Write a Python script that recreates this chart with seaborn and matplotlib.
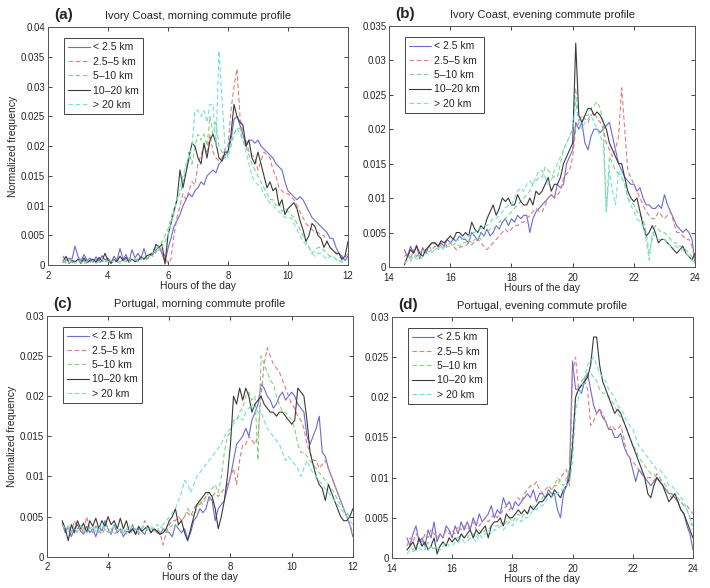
import numpy as np
import pandas as pd
import matplotlib
matplotlib.use("Agg")
import matplotlib.pyplot as plt
from matplotlib.ticker import FuncFormatter
import seaborn as sns

# values, in units of 1e-3 (per mille), one every 0.1 h
PER_MILLE = 1e-3
bands = ["< 2.5 km", "2.5\u20135 km", "5\u201310 km", "10\u201320 km", "> 20 km"]
morning_hours = np.round(np.arange(2.5, 12.05, 0.1), 1)
evening_hours = np.round(np.arange(14.5, 24.05, 0.1), 1)

# (a) Ivory Coast, morning
ic_morning_lt2_5 = [1.5, 0.8, 1.2, 1.0, 3.2, 1.5, 0.6, 1.8, 0.8, 1.2,
                    0.5, 1.4, 0.7, 1.6, 0.9, 1.2, 0.4, 1.5, 0.8, 2.8,
                    1.0, 1.8, 0.6, 2.6, 1.2, 2.0, 1.1, 2.8, 1.0, 1.6,
                    1.8, 2.6, 3.0, 2.0, 0.5, 2.8, 4.5, 6.5, 7.5, 8.5,
                    10.0, 11.0, 12.0, 11.5, 12.5, 13.0, 14.0, 13.5, 15.0, 15.5,
                    16.0, 15.5, 17.0, 17.5, 18.5, 19.0, 21.0, 24.5, 25.0, 23.5,
                    22.0, 20.0, 21.0, 21.0, 20.5, 21.0, 20.0, 19.5, 19.0, 18.5,
                    18.0, 17.0, 16.5, 16.0, 14.0, 12.5, 12.0, 11.5, 11.0, 11.5,
                    11.0, 10.0, 9.0, 8.0, 7.5, 7.0, 6.5, 6.0, 5.5, 4.5,
                    4.5, 3.0, 2.0, 1.5, 0.8, 1.5]
ic_morning_2_5_5 = [1.0, 0.5, 1.2, 0.4, 0.8, 1.0, 0.5, 0.9, 0.3, 0.7,
                    0.6, 1.0, 0.4, 0.8, 0.5, 1.2, 0.6, 0.3, 0.9, 0.5,
                    1.0, 0.6, 1.4, 0.8, 0.5, 1.2, 0.9, 1.5, 1.1, 1.8,
                    1.5, 2.2, 3.0, 2.5, 1.5, 0.3, 1.0, 5.0, 8.0, 10.0,
                    12.0, 11.0, 12.5, 14.0, 13.5, 17.0, 18.5, 20.0, 19.0, 22.0,
                    19.0, 18.0, 17.5, 18.0, 19.5, 20.0, 26.0, 30.0, 33.0, 25.0,
                    22.0, 21.0, 19.0, 18.5, 18.0, 16.0, 17.5, 19.0, 18.5, 18.0,
                    16.0, 15.0, 13.0, 12.5, 12.0, 12.0, 11.5, 11.0, 10.0, 9.0,
                    8.0, 7.0, 6.5, 6.0, 5.5, 5.5, 5.0, 5.0, 4.0, 3.0,
                    2.5, 2.0, 1.5, 1.0, 1.2, 2.0]
ic_morning_5_10 = [0.8, 0.3, 1.0, 0.5, 0.7, 0.4, 1.1, 0.6, 0.3, 0.8,
                   0.5, 0.9, 0.3, 0.7, 0.5, 1.0, 0.4, 0.8, 0.6, 0.3,
                   0.9, 0.5, 1.2, 0.7, 1.0, 0.6, 1.3, 1.0, 1.5, 1.8,
                   2.5, 3.0, 2.5, 4.0, 5.0, 6.0, 8.0, 9.5, 11.0, 12.0,
                   14.0, 16.0, 19.0, 17.0, 20.0, 22.0, 21.0, 22.0, 20.0, 25.0,
                   22.0, 24.0, 20.0, 19.0, 18.0, 19.0, 20.0, 22.0, 23.0, 23.0,
                   21.0, 20.0, 18.5, 17.0, 16.0, 15.0, 14.0, 13.0, 12.0, 11.0,
                   11.0, 10.0, 10.5, 9.0, 9.5, 9.0, 8.5, 8.0, 7.0, 6.0,
                   5.0, 4.0, 3.0, 2.0, 2.5, 3.0, 3.0, 2.5, 2.0, 1.5,
                   1.5, 1.0, 0.8, 0.5, 0.8, 1.0]
ic_morning_10_20 = [0.5, 1.5, 0.3, 0.8, 0.5, 1.0, 0.3, 1.2, 0.5, 0.8,
                    1.0, 0.5, 1.3, 0.7, 2.0, 0.8, 0.3, 1.0, 0.6, 1.5,
                    0.8, 1.3, 0.5, 1.0, 0.6, 0.8, 1.4, 1.0, 1.6, 1.8,
                    2.0, 3.5, 3.0, 3.5, 0.2, 5.0, 7.0, 9.0, 11.0, 16.0,
                    13.0, 15.5, 18.0, 20.5, 20.0, 18.0, 17.0, 20.5, 18.0, 21.0,
                    22.0, 20.5, 18.0, 17.5, 19.0, 19.0, 22.0, 27.0, 25.0, 24.0,
                    23.5, 20.0, 21.0, 18.0, 17.0, 19.0, 17.0, 15.0, 13.0, 14.0,
                    12.5, 13.0, 10.0, 11.0, 8.5, 9.5, 10.0, 10.5, 9.5, 7.5,
                    6.0, 4.0, 5.0, 7.0, 6.5, 5.0, 4.5, 3.0, 4.0, 3.0,
                    2.5, 2.0, 2.0, 1.0, 1.5, 4.0]
ic_morning_gt20 = [0.6, 1.0, 0.4, 0.8, 0.3, 0.9, 0.5, 0.2, 0.7, 0.4,
                   0.8, 0.3, 0.6, 1.0, 0.4, 0.7, 0.3, 0.9, 0.5, 0.6,
                   0.4, 1.0, 0.6, 0.8, 1.2, 0.7, 1.0, 1.4, 1.2, 1.6,
                   2.0, 2.5, 3.5, 3.0, 4.0, 5.0, 7.0, 9.0, 11.0, 13.0,
                   15.0, 17.0, 18.0, 20.0, 26.0, 26.0, 25.0, 26.0, 24.0, 27.0,
                   27.0, 20.0, 36.0, 28.0, 20.0, 18.0, 21.0, 22.0, 23.0, 22.0,
                   21.0, 19.0, 17.0, 15.0, 14.0, 13.5, 13.0, 12.0, 11.0, 10.5,
                   10.0, 9.5, 9.0, 8.5, 8.0, 8.0, 8.0, 7.0, 6.0, 5.0,
                   4.0, 3.5, 3.0, 2.0, 1.5, 2.0, 2.0, 1.5, 1.0, 1.5,
                   1.5, 1.0, 0.5, 0.8, 1.0, 1.0]

# (b) Ivory Coast, evening
ic_evening_lt2_5 = [2.5, 1.5, 3.0, 2.0, 3.2, 1.2, 2.8, 2.0, 3.0, 3.5,
                    3.5, 3.0, 3.5, 3.0, 4.0, 3.5, 4.0, 3.8, 4.5, 4.0,
                    4.0, 3.5, 5.0, 4.5, 3.8, 5.0, 4.5, 5.5, 4.5, 5.0,
                    6.0, 5.5, 6.5, 7.0, 6.0, 7.0, 6.5, 7.5, 7.0, 7.5,
                    7.5, 5.0, 7.0, 8.0, 8.5, 9.0, 9.5, 10.0, 10.5, 10.0,
                    12.0, 11.5, 12.0, 15.0, 16.0, 17.0, 21.0, 20.0, 21.0, 18.0,
                    17.0, 19.0, 20.0, 20.0, 19.5, 20.0, 20.5, 21.0, 19.0, 17.0,
                    15.0, 14.0, 13.0, 12.5, 12.0, 12.0, 11.0, 11.5, 10.0, 9.0,
                    9.0, 8.5, 8.5, 9.0, 8.5, 10.5, 9.0, 8.0, 7.0, 6.0,
                    5.5, 5.0, 5.5, 5.0, 4.0, 0.5]
ic_evening_2_5_5 = [1.5, 2.0, 1.0, 2.5, 1.5, 2.0, 2.5, 2.0, 3.0, 2.5,
                    3.0, 2.8, 3.2, 3.5, 3.0, 3.5, 3.0, 2.5, 2.8, 3.0,
                    3.0, 3.5, 3.2, 3.8, 4.0, 3.5, 3.0, 2.5, 3.0, 3.5,
                    4.0, 4.5, 5.0, 5.5, 5.0, 5.5, 6.0, 6.0, 6.5, 6.5,
                    7.0, 7.5, 8.0, 8.5, 8.0, 8.0, 9.0, 10.0, 10.5, 10.0,
                    10.5, 11.0, 13.0, 13.5, 14.0, 16.0, 20.0, 21.0, 22.0, 21.5,
                    21.0, 22.0, 22.5, 21.5, 21.0, 20.0, 18.0, 17.0, 16.0, 17.0,
                    19.0, 26.0, 20.0, 14.0, 13.0, 12.0, 11.0, 10.0, 9.0, 8.0,
                    7.5, 7.0, 7.0, 8.0, 7.5, 7.0, 7.5, 8.0, 6.5, 5.0,
                    5.0, 4.5, 4.0, 4.0, 3.0, 1.0]
ic_evening_5_10 = [0.5, 1.0, 1.5, 1.2, 2.0, 1.5, 2.0, 2.5, 2.2, 2.5,
                   2.5, 2.8, 3.0, 2.5, 3.0, 3.0, 3.2, 3.5, 3.0, 3.5,
                   3.5, 4.0, 3.5, 4.0, 4.5, 4.0, 4.5, 5.0, 5.5, 5.5,
                   6.0, 6.5, 7.0, 7.0, 7.5, 8.0, 8.5, 9.0, 9.5, 10.0,
                   10.5, 11.0, 12.0, 12.5, 13.0, 13.0, 14.5, 14.0, 13.5, 13.0,
                   13.0, 15.0, 17.0, 18.0, 19.0, 20.0, 26.0, 21.0, 21.0, 22.0,
                   22.0, 23.0, 23.5, 24.0, 23.0, 21.0, 8.0, 16.0, 15.0, 14.0,
                   13.5, 13.0, 12.0, 10.0, 9.5, 9.0, 8.0, 7.5, 7.0, 5.0,
                   2.0, 4.0, 6.0, 5.5, 5.0, 5.0, 4.5, 4.0, 3.5, 3.5,
                   3.0, 3.0, 2.5, 2.0, 1.5, 1.0]
ic_evening_10_20 = [0.3, 1.5, 2.5, 2.0, 3.0, 2.0, 1.5, 2.5, 3.0, 3.5,
                    3.5, 3.0, 3.8, 3.5, 4.0, 4.5, 4.0, 5.0, 5.0, 4.5,
                    5.0, 4.5, 6.5, 5.5, 5.0, 6.0, 5.5, 7.0, 8.0, 9.0,
                    7.5, 8.5, 10.0, 9.5, 10.0, 9.0, 9.0, 10.5, 9.5, 9.0,
                    9.0, 10.0, 9.0, 11.0, 10.5, 11.0, 12.0, 13.0, 11.0, 12.0,
                    12.0, 13.0, 15.0, 16.0, 17.0, 18.0, 32.5, 22.0, 21.0, 22.0,
                    23.0, 23.0, 22.0, 22.5, 22.0, 21.0, 20.0, 18.0, 17.0, 16.0,
                    15.0, 15.0, 13.0, 11.0, 10.0, 9.5, 10.0, 8.0, 6.0, 4.5,
                    5.0, 6.0, 5.0, 3.5, 4.0, 4.0, 3.5, 3.0, 2.5, 2.0,
                    2.5, 3.0, 2.0, 1.5, 1.0, 2.0]
ic_evening_gt20 = [0.5, 1.0, 0.8, 1.5, 1.2, 1.0, 1.5, 2.0, 1.8, 2.2,
                   2.5, 2.5, 3.0, 2.8, 3.2, 3.5, 3.5, 3.8, 4.0, 4.0,
                   4.5, 4.5, 5.0, 5.0, 5.5, 5.5, 6.0, 6.0, 6.5, 7.0,
                   7.0, 7.5, 8.0, 8.5, 9.0, 9.0, 10.0, 11.0, 11.5, 11.0,
                   12.0, 12.5, 12.0, 13.0, 14.0, 14.0, 13.0, 12.0, 12.5, 14.0,
                   15.0, 16.0, 17.0, 18.0, 19.0, 20.0, 24.0, 21.0, 20.0, 21.0,
                   21.5, 22.0, 21.0, 20.0, 19.0, 18.0, 8.0, 14.0, 11.0, 9.0,
                   14.0, 13.0, 12.0, 10.0, 9.0, 8.0, 7.0, 6.5, 6.0, 4.0,
                   1.0, 5.0, 4.5, 4.0, 4.0, 4.0, 3.5, 3.0, 3.0, 3.0,
                   2.5, 2.5, 2.0, 1.5, 1.0, 0.5]

# (c) Portugal, morning
pt_morning_lt2_5 = [4.2, 3.0, 3.8, 2.5, 3.5, 4.0, 3.2, 2.8, 3.8, 3.0,
                    3.5, 2.5, 3.8, 3.2, 4.5, 3.5, 2.8, 4.0, 3.0, 3.5,
                    2.5, 3.2, 3.0, 4.0, 2.8, 3.5, 3.2, 2.8, 3.8, 3.0,
                    3.5, 3.0, 2.8, 3.5, 3.2, 3.0, 2.5, 4.0, 3.5, 3.0,
                    3.5, 2.2, 3.0, 4.5, 5.0, 6.0, 5.5, 6.0, 7.5, 7.0,
                    4.5, 6.0, 6.5, 7.0, 8.5, 10.0, 12.0, 14.0, 14.5, 15.0,
                    16.0, 15.0, 17.0, 18.0, 19.0, 21.5, 21.0, 20.0, 19.5, 18.5,
                    19.0, 20.0, 20.5, 19.5, 20.0, 20.5, 20.0, 19.0, 18.5, 18.0,
                    15.0, 14.0, 15.0, 16.0, 17.5, 13.0, 12.5, 11.0, 10.0, 9.0,
                    8.0, 7.0, 6.0, 5.0, 4.0, 2.5]
pt_morning_2_5_5 = [4.0, 3.5, 3.8, 3.0, 4.5, 3.5, 3.8, 3.0, 5.0, 3.5,
                    3.0, 3.8, 3.2, 2.8, 3.5, 3.0, 3.5, 2.8, 3.2, 3.0,
                    3.5, 2.8, 3.2, 3.0, 3.5, 2.8, 3.5, 4.5, 3.8, 3.5,
                    3.2, 3.5, 3.0, 1.5, 3.0, 4.0, 4.5, 4.5, 5.0, 4.5,
                    5.0, 5.5, 5.0, 6.0, 6.5, 6.5, 7.0, 7.5, 7.0, 7.5,
                    8.0, 7.5, 8.0, 8.5, 9.0, 10.0, 11.0, 9.0, 12.0, 14.0,
                    14.0, 15.0, 14.5, 14.0, 15.0, 20.0, 24.0, 26.0, 25.0, 24.0,
                    23.5, 23.0, 22.0, 21.0, 20.0, 19.0, 18.5, 17.5, 17.0, 16.0,
                    14.0, 13.0, 12.0, 12.0, 11.0, 11.5, 12.0, 11.0, 10.0, 9.0,
                    8.0, 7.0, 6.0, 5.0, 4.0, 3.0]
pt_morning_5_10 = [4.5, 3.5, 3.0, 4.0, 3.5, 3.0, 4.0, 3.5, 3.8, 3.2,
                   3.5, 4.0, 3.0, 3.5, 4.2, 3.5, 3.0, 3.8, 3.5, 3.2,
                   3.5, 3.0, 3.8, 3.2, 3.5, 3.0, 3.5, 3.8, 3.2, 3.5,
                   3.5, 3.2, 3.8, 3.5, 3.0, 3.5, 4.0, 3.8, 4.0, 4.5,
                   5.0, 6.0, 5.5, 5.0, 6.0, 7.0, 6.5, 7.5, 8.0, 8.5,
                   9.0, 8.0, 10.0, 13.0, 15.0, 15.5, 17.0, 17.0, 18.0, 18.5,
                   20.0, 20.5, 19.5, 20.0, 12.0, 25.0, 24.0, 23.0, 22.0, 21.5,
                   20.0, 19.0, 18.0, 18.0, 17.5, 17.0, 16.0, 14.0, 13.0, 13.0,
                   12.5, 12.0, 11.5, 11.0, 10.5, 10.0, 9.5, 9.0, 8.5, 8.0,
                   7.0, 6.5, 6.0, 5.5, 5.0, 5.0]
pt_morning_10_20 = [4.5, 3.5, 2.0, 4.0, 3.0, 4.5, 3.5, 4.2, 3.0, 4.5,
                    3.8, 4.8, 3.5, 4.5, 3.8, 5.0, 4.0, 4.5, 3.5, 4.8,
                    3.5, 4.5, 3.0, 3.5, 2.8, 3.8, 3.2, 3.5, 3.8, 3.0,
                    3.5, 3.2, 2.8, 3.0, 3.5, 4.5, 5.0, 6.0, 4.0, 4.5,
                    3.0, 2.0, 3.5, 5.0, 6.5, 7.0, 7.5, 8.0, 8.0, 7.5,
                    6.0, 3.5, 5.0, 7.0, 10.0, 14.0, 20.0, 19.0, 21.0, 19.5,
                    21.0, 20.0, 18.0, 19.0, 19.5, 20.0, 19.0, 18.5, 18.0, 18.0,
                    17.5, 18.0, 18.0, 17.5, 17.0, 16.5, 17.0, 21.0, 20.5, 20.0,
                    17.0, 13.0, 11.5, 10.0, 9.0, 8.5, 7.0, 9.0, 8.0, 7.0,
                    6.0, 5.0, 4.5, 4.5, 5.0, 6.0]
pt_morning_gt20 = [4.0, 3.5, 3.8, 3.0, 3.5, 3.2, 3.8, 3.5, 3.0, 3.5,
                   3.8, 3.2, 3.5, 4.0, 3.5, 3.0, 3.5, 3.8, 3.2, 3.5,
                   3.0, 3.5, 3.2, 3.8, 3.5, 3.2, 3.5, 4.0, 3.5, 3.8,
                   3.5, 4.0, 3.8, 4.0, 4.5, 5.0, 5.5, 6.0, 7.0, 8.0,
                   9.5, 9.0, 8.0, 9.0, 10.0, 10.5, 11.0, 11.5, 12.0, 12.5,
                   13.0, 13.5, 14.0, 15.0, 15.5, 16.0, 16.5, 17.0, 17.5, 17.0,
                   18.0, 18.5, 19.0, 18.5, 18.0, 18.0, 17.0, 16.0, 15.5, 15.0,
                   14.5, 14.0, 13.0, 12.0, 12.5, 12.0, 11.5, 11.0, 10.0, 11.0,
                   12.0, 11.0, 10.5, 10.0, 9.5, 9.0, 8.5, 8.0, 7.5, 7.0,
                   6.5, 6.0, 5.5, 5.0, 4.5, 4.0]

# (d) Portugal, evening
pt_evening_lt2_5 = [2.5, 1.5, 3.0, 4.0, 2.0, 2.5, 1.5, 3.5, 2.5, 4.5,
                    2.0, 3.0, 2.5, 4.0, 3.5, 2.5, 4.0, 3.0, 4.5, 3.5,
                    4.5, 3.5, 5.0, 4.0, 5.5, 4.5, 5.0, 5.5, 6.5, 5.0,
                    6.0, 5.5, 7.5, 6.5, 7.0, 6.0, 7.0, 6.5, 7.0, 7.5,
                    8.0, 7.5, 8.5, 7.0, 8.0, 8.0, 7.5, 8.5, 8.0, 8.0,
                    6.0, 5.0, 8.0, 9.0, 11.0, 24.5, 21.0, 21.0, 20.5, 22.0,
                    23.0, 21.0, 19.0, 18.0, 18.5, 17.5, 17.0, 16.0, 16.0, 15.0,
                    15.0, 15.5, 14.0, 13.0, 12.5, 11.0, 9.5, 11.0, 10.5, 10.0,
                    9.5, 9.0, 9.5, 10.0, 9.5, 9.0, 8.5, 8.0, 8.0, 7.5,
                    7.0, 6.0, 5.5, 4.0, 3.0, 1.0]
pt_evening_2_5_5 = [1.5, 2.5, 2.0, 3.0, 2.5, 2.0, 3.0, 2.5, 3.5, 3.0,
                    2.5, 3.0, 2.5, 3.5, 3.0, 3.5, 3.0, 4.0, 3.5, 4.0,
                    3.5, 4.0, 4.5, 3.5, 4.0, 4.5, 5.0, 4.5, 5.0, 5.5,
                    5.0, 5.5, 6.0, 6.5, 6.0, 6.5, 7.0, 7.5, 7.0, 8.0,
                    8.5, 9.0, 9.0, 9.5, 8.5, 8.0, 8.5, 9.0, 8.5, 9.0,
                    9.0, 10.0, 10.5, 11.0, 9.0, 23.0, 25.0, 21.0, 21.5, 22.0,
                    21.0, 16.5, 17.0, 18.0, 18.5, 18.0, 17.0, 16.0, 16.5, 16.0,
                    16.0, 16.5, 15.0, 13.0, 12.5, 12.0, 11.5, 11.0, 10.5, 10.0,
                    10.0, 10.0, 9.5, 10.5, 10.0, 9.0, 8.5, 8.0, 7.5, 7.5,
                    7.0, 7.0, 6.5, 6.5, 6.0, 5.5]
pt_evening_5_10 = [1.0, 1.5, 1.0, 1.5, 2.0, 1.5, 1.0, 2.0, 1.5, 1.0,
                   1.0, 1.5, 2.0, 1.5, 2.5, 2.0, 2.5, 2.5, 3.0, 2.5,
                   2.5, 3.0, 3.0, 2.5, 3.5, 3.0, 3.5, 3.5, 4.0, 4.0,
                   4.0, 4.5, 4.0, 4.5, 5.0, 4.5, 5.0, 5.5, 5.0, 5.5,
                   5.5, 6.0, 6.5, 6.5, 7.0, 7.5, 8.0, 8.0, 8.5, 9.0,
                   10.0, 9.5, 9.0, 10.0, 11.0, 15.0, 20.0, 21.0, 22.0, 22.5,
                   23.0, 23.0, 22.5, 22.0, 21.0, 20.5, 20.5, 20.0, 19.5, 19.0,
                   18.0, 17.5, 17.0, 16.0, 15.0, 14.0, 13.5, 12.5, 12.0, 11.5,
                   11.0, 10.5, 10.5, 10.0, 10.0, 9.5, 9.0, 8.0, 8.0, 7.5,
                   7.5, 7.0, 6.5, 6.0, 5.0, 3.5]
pt_evening_10_20 = [1.0, 1.5, 2.0, 1.0, 2.5, 1.5, 2.0, 1.0, 1.5, 2.5,
                    0.5, 1.5, 2.0, 1.5, 2.5, 2.0, 2.5, 2.0, 3.0, 2.5,
                    3.0, 3.5, 2.5, 3.5, 3.0, 3.5, 4.0, 2.5, 4.0, 4.5,
                    4.5, 5.0, 4.0, 5.5, 5.0, 5.0, 5.5, 6.0, 5.5, 6.0,
                    5.5, 6.5, 6.0, 6.5, 7.0, 7.0, 7.5, 8.0, 7.5, 8.5,
                    8.0, 7.5, 8.5, 9.0, 10.0, 14.0, 20.0, 21.0, 21.5, 22.0,
                    22.5, 24.0, 27.5, 27.5, 24.0, 22.0, 21.0, 20.0, 19.0, 18.0,
                    18.5, 18.0, 17.0, 16.0, 15.0, 14.0, 13.0, 12.0, 11.0, 10.0,
                    8.0, 7.5, 9.0, 10.0, 9.5, 9.0, 8.0, 7.0, 7.5, 8.0,
                    7.0, 6.0, 5.5, 4.5, 3.5, 2.5]
pt_evening_gt20 = [0.5, 1.0, 0.8, 1.0, 1.2, 1.0, 1.5, 1.0, 1.5, 1.2,
                   1.5, 1.0, 1.5, 2.0, 1.5, 1.5, 2.0, 2.0, 2.5, 2.0,
                   2.0, 2.5, 2.5, 2.0, 3.0, 2.5, 3.0, 3.5, 3.0, 3.5,
                   3.5, 4.0, 3.5, 4.0, 4.5, 4.0, 4.5, 5.0, 4.5, 5.0,
                   5.0, 5.5, 6.0, 6.0, 6.5, 6.5, 7.0, 7.5, 7.5, 8.0,
                   8.0, 8.5, 8.5, 9.0, 9.5, 12.0, 18.0, 20.0, 21.0, 22.5,
                   24.0, 24.5, 25.0, 24.0, 23.0, 22.5, 22.0, 21.0, 20.5, 20.0,
                   19.0, 18.5, 18.0, 17.0, 16.5, 16.0, 15.0, 14.0, 13.5, 13.0,
                   12.5, 12.0, 11.5, 11.0, 11.0, 10.5, 10.0, 9.0, 9.0, 8.5,
                   8.0, 7.5, 7.0, 6.0, 5.0, 4.0]

colors = {bands[0]: "#6b6bd6", bands[1]: "#e07c7c", bands[2]: "#82d482",
          bands[3]: "#3a3a3a", bands[4]: "#6fe0e0"}
dashes = {bands[0]: "", bands[1]: (4, 2.5), bands[2]: (4, 2.5),
          bands[3]: "", bands[4]: (4, 2.5)}


def make_frame(hours, series):
    parts = []
    for band, vals in zip(bands, series):
        parts.append(pd.DataFrame({"hour": hours,
                                   "freq": np.array(vals) * PER_MILLE,
                                   "band": band}))
    return pd.concat(parts, ignore_index=True)


panels = [
    ("(a)", "Ivory Coast, morning commute profile", morning_hours,
     [ic_morning_lt2_5, ic_morning_2_5_5, ic_morning_5_10, ic_morning_10_20, ic_morning_gt20],
     (2, 12), 0.04, [0.0676, 0.549, 0.4225, 0.405]),
    ("(b)", "Ivory Coast, evening commute profile", evening_hours,
     [ic_evening_lt2_5, ic_evening_2_5_5, ic_evening_5_10, ic_evening_10_20, ic_evening_gt20],
     (14, 24), 0.035, [0.548, 0.546, 0.431, 0.410]),
    ("(c)", "Portugal, morning commute profile", morning_hours,
     [pt_morning_lt2_5, pt_morning_2_5_5, pt_morning_5_10, pt_morning_10_20, pt_morning_gt20],
     (2, 12), 0.03, [0.066, 0.053, 0.431, 0.410]),
    ("(d)", "Portugal, evening commute profile", evening_hours,
     [pt_evening_lt2_5, pt_evening_2_5_5, pt_evening_5_10, pt_evening_10_20, pt_evening_gt20],
     (14, 24), 0.03, [0.552, 0.051, 0.424, 0.410]),
]

sns.set_theme(style="white")
plt.rcParams["font.family"] = ["Liberation Sans", "DejaVu Sans"]
plt.rcParams["xtick.direction"] = "in"
plt.rcParams["ytick.direction"] = "in"

fig = plt.figure(figsize=(7.1, 5.88), dpi=100)

for i, (tag, title, hours, series, xlim, ytop, rect) in enumerate(panels):
    ax = fig.add_axes(rect)
    df = make_frame(hours, series)
    sns.lineplot(data=df, x="hour", y="freq", hue="band", style="band",
                 palette=colors, dashes=dashes, hue_order=bands,
                 style_order=bands, linewidth=0.8, legend=False, ax=ax)
    ax.set_xlim(*xlim)
    ax.set_ylim(0, ytop)
    ax.set_xticks(np.arange(xlim[0], xlim[1] + 1, 2))
    ax.set_yticks(np.arange(0, ytop + 1e-9, 0.005))
    ax.yaxis.set_major_formatter(FuncFormatter(lambda v, p: f"{v:g}"))
    ax.tick_params(labelsize=7, length=3, width=0.6, top=True, right=True,
                   bottom=True, left=True)
    ax.tick_params(axis="x", pad=4)
    ax.tick_params(axis="y", pad=2)
    for s in ax.spines.values():
        s.set_color("#555555")
        s.set_linewidth(0.7)
    ax.set_xlabel("Hours of the day", fontsize=7.5, labelpad=0)
    if i % 2 == 0:
        ax.set_ylabel("Normalized frequency", fontsize=7.5, labelpad=2)
    else:
        ax.set_ylabel("")
    ax.set_title(title, fontsize=8, pad=6)
    ax.text(0.02, 1.02, tag, transform=ax.transAxes, fontsize=11,
            fontweight="bold", va="bottom", ha="left")
    leg = ax.legend(ax.lines[:5], bands, loc="upper left",
                    bbox_to_anchor=(0.035, 0.975), frameon=True, fancybox=False,
                    fontsize=7.5, handlelength=2.1, handletextpad=0.3,
                    labelspacing=0.42, borderpad=0.4, edgecolor="#444444",
                    framealpha=1)
    leg.get_frame().set_linewidth(0.7)

fig.savefig("out.png", dpi=100, facecolor="white")
